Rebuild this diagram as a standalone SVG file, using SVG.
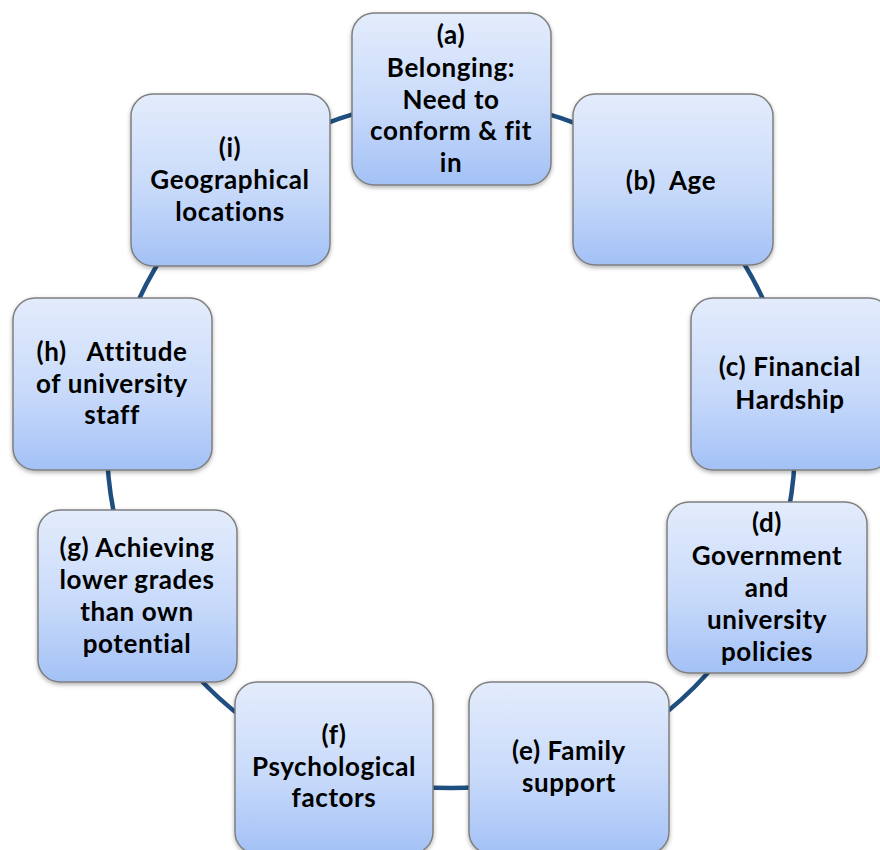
<svg xmlns="http://www.w3.org/2000/svg" width="880" height="850" viewBox="0 0 880 850">
<defs>
<linearGradient id="g" x1="0" y1="0" x2="0" y2="1">
<stop offset="0" stop-color="#E3ECFC"/>
<stop offset="0.55" stop-color="#C8DAFA"/>
<stop offset="1" stop-color="#A3C1F6"/>
</linearGradient>
<filter id="sh" x="-10%" y="-10%" width="120%" height="125%">
<feDropShadow dx="0" dy="2" stdDeviation="2" flood-color="#000" flood-opacity="0.3"/>
</filter>
</defs>
<style>
.box{fill:url(#g);stroke:#7F7F7F;stroke-width:1.5;filter:url(#sh)}
.t{font-family:Lato,"Liberation Sans",sans-serif;font-weight:bold;font-size:26px;letter-spacing:0.6px;font-variant-ligatures:none;fill:#000;text-anchor:middle;white-space:pre}
.c{fill:none;stroke:#1F4E80;stroke-width:4.5}
</style>
<rect width="880" height="850" fill="#fff"/>
<g id="connectors">
<circle class="c" cx="451" cy="444" r="344"/>
</g>
<g id="a"><rect class="box" x="352" y="13" width="199" height="172" rx="22"/>
<text class="t" x="451"><tspan x="451" y="44">(a)</tspan><tspan x="451" y="77">Belonging:</tspan><tspan x="451" y="109">Need to</tspan><tspan x="451" y="140">conform &amp; fit</tspan><tspan x="451" y="172">in</tspan></text></g>
<g id="b"><rect class="box" x="573" y="94" width="200" height="171" rx="22"/>
<text class="t" x="671" y="190">(b)  Age</text></g>
<g id="c"><rect class="box" x="691" y="298" width="200" height="172" rx="22"/>
<text class="t"><tspan x="790" y="376">(c) Financial</tspan><tspan x="790" y="409">Hardship</tspan></text></g>
<g id="d"><rect class="box" x="667" y="502" width="200" height="171" rx="22"/>
<text class="t"><tspan x="767" y="532">(d)</tspan><tspan x="767" y="565">Government</tspan><tspan x="767" y="597">and</tspan><tspan x="767" y="629">university</tspan><tspan x="767" y="661">policies</tspan></text></g>
<g id="e"><rect class="box" x="469" y="682" width="200" height="172" rx="22"/>
<text class="t"><tspan x="569" y="760">(e) Family</tspan><tspan x="569" y="792">support</tspan></text></g>
<g id="f"><rect class="box" x="235" y="682" width="198" height="172" rx="22"/>
<text class="t"><tspan x="334" y="744">(f)</tspan><tspan x="334" y="776">Psychological</tspan><tspan x="334" y="807">factors</tspan></text></g>
<g id="g-node"><rect class="box" x="38" y="510" width="199" height="172" rx="22"/>
<text class="t"><tspan x="137" y="557">(g) Achieving</tspan><tspan x="137" y="589">lower grades</tspan><tspan x="137" y="621">than own</tspan><tspan x="137" y="653">potential</tspan></text></g>
<g id="h"><rect class="box" x="13" y="298" width="199" height="172" rx="22"/>
<text class="t"><tspan x="112" y="361">(h)   Attitude</tspan><tspan x="112" y="393">of university</tspan><tspan x="112" y="424">staff</tspan></text></g>
<g id="i"><rect class="box" x="131" y="94" width="199" height="172" rx="22"/>
<text class="t"><tspan x="230" y="157">(i)</tspan><tspan x="230" y="189">Geographical</tspan><tspan x="230" y="221">locations</tspan></text></g>
</svg>
